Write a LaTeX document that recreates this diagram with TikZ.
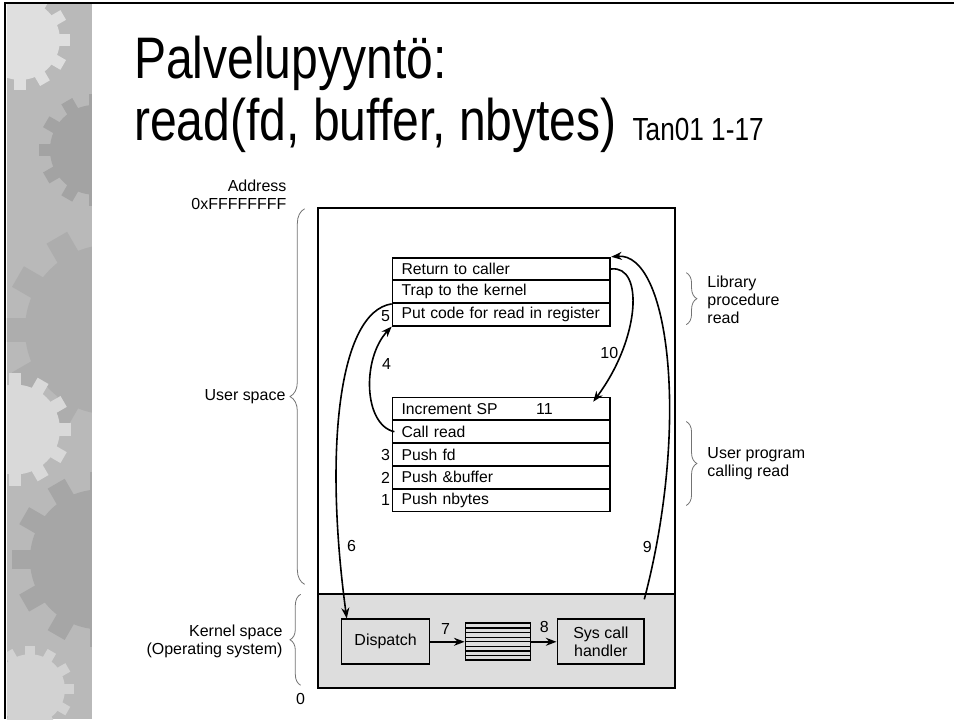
\documentclass[tikz,border=0pt]{standalone}
\usepackage{fontspec}
\setmainfont{Liberation Sans}
\newfontfamily\titlefont[FakeStretch=0.82]{Liberation Sans}
\usetikzlibrary{arrows.meta,decorations.pathreplacing}

\definecolor{kernelgray}{RGB}{221,221,221}

% gear silhouette for the slide strip: colour, x, y, radius
\newcommand{\gearblob}[4]{%
  \fill[#1] (#2,#3) circle (#4);
  \foreach \a in {0,30,...,330}
    \fill[#1, rotate around={\a:(#2,#3)}]
      ({#2-0.14*#4},{#3-1.25*#4}) rectangle ({#2+0.14*#4},{#3-0.9*#4});
}

\begin{document}
\begin{tikzpicture}[
    x=0.75pt, y=-0.75pt,
    font=\fontsize{12}{13.5}\selectfont,
    frame/.style={draw=black, line width=1.3pt},
    stackrow/.style={draw=black, line width=1.3pt, minimum height=17pt,
      font=\fontsize{11.8}{13.5}\selectfont,
      text width=150pt, inner xsep=6.75pt, inner ysep=0pt, align=left},
    kbox/.style={draw=black, line width=1.3pt, fill=kernelgray, inner sep=0pt, align=center},
    flow/.style={draw=black, line width=1.2pt, -{Stealth[length=8pt,width=6pt]}},
    stepnum/.style={inner sep=1pt},
    spacebrace/.style={draw=black!55, line width=0.6pt, decorate,
      decoration={brace, amplitude=#1}},
    spacebrace/.default=8pt,
    sidelabel/.style={align=right, anchor=east, inner sep=0pt},
    notelabel/.style={align=left, anchor=west, inner sep=0pt},
    titletext/.style={font=\titlefont\fontsize{44}{50}\selectfont, anchor=base west, inner sep=0pt},
  ]

  % Slide decoration: grey gear strip along the left edge.
  \begin{scope}
    \clip (7,4) rectangle (92,720);
    \fill[gray!55] (7,4) rectangle (92,720);
    \gearblob{gray!25}{20}{40}{40}
    \gearblob{gray!72}{95}{150}{45}
    \gearblob{gray!64}{110}{330}{85}
    \gearblob{gray!30}{15}{430}{45}
    \gearblob{gray!70}{100}{560}{70}
    \gearblob{gray!35}{30}{690}{35}
  \end{scope}
  \draw[line width=1.6pt] (5,720) -- (5,3) -- (955,3);

  % Title
  \node[titletext] (title1) at (134,79) {Palvelupyyntö:};
  \node[titletext] (title2) at (134,141) {read(fd, buffer, nbytes)};
  \node[anchor=base west, inner sep=0pt, font=\titlefont\fontsize{24}{28}\selectfont]
    (source) at (633,141) {Tan01 1-17};

  % Address space: user part above, kernel part shaded below.
  \fill[kernelgray] (318,595) rectangle (676,689);
  \draw[frame] (318,208) rectangle (676,689);
  \draw[frame] (318,595) -- (676,595);

  % Library procedure read
  \node[stackrow] (ret) at (502,269.3) {Return to caller};
  \node[stackrow] (trap) at (502,292) {Trap to the kernel};
  \node[stackrow] (putcode) at (502,314.7) {Put code for read in register};

  % User program calling read
  \node[stackrow] (inc) at (502,409.4) {Increment SP};
  \node[stackrow] (call) at (502,432.2) {Call read};
  \node[stackrow] (pushfd) at (502,455) {Push fd};
  \node[stackrow] (pushbuf) at (502,477.8) {Push \&buffer};
  \node[stackrow] (pushn) at (502,500.6) {Push nbytes};

  % Kernel: dispatch, table of handlers, handler
  \node[kbox, minimum width=66pt, minimum height=33.75pt] (dispatch) at (386,642.5) {Dispatch};
  \node[kbox, minimum width=48.75pt, minimum height=27.75pt] (table) at (498.5,642.5) {};
  \draw[line width=0.9pt]
    (466,628.6) -- (531,628.6) (466,633.3) -- (531,633.3)
    (466,637.9) -- (531,637.9) (466,642.5) -- (531,642.5)
    (466,647.1) -- (531,647.1) (466,651.8) -- (531,651.8)
    (466,656.4) -- (531,656.4);
  \node[kbox, minimum width=65.25pt, minimum height=33.75pt] (handler) at (601.5,642.5) {Sys call\\handler};

  % Steps
  \node[stepnum, anchor=east] (n1) at (392,501) {1};
  \node[stepnum, anchor=east] (n2) at (392,478) {2};
  \node[stepnum, anchor=east] (n3) at (392,455) {3};
  \node[stepnum] (n4) at (387,364) {4};
  \node[stepnum, anchor=east] (n5) at (392,316) {5};
  \node[stepnum] (n6) at (352,547) {6};
  \node[stepnum] (n7) at (446,630) {7};
  \node[stepnum] (n8) at (545,628) {8};
  \node[stepnum] (n9) at (648,548) {9};
  \node[stepnum] (n10) at (610,353) {10};
  \node[stepnum] (n11) at (545,409) {11};

  \coordinate (k9) at (645,600);

  \draw[flow] ([xshift=2pt]call.west) .. controls +(-31,-7) and +(-30,32) .. (putcode.south west);
  \draw[flow] (trap.south west) .. controls +(-53,8) and +(-23,-170) .. ([xshift=4.5pt]dispatch.north west);
  \draw[flow] (dispatch.east) -- (table.west);
  \draw[flow] (table.east) -- (handler.west);
  \draw[flow] (k9) .. controls +(46,-175) and +(58,-5) .. (ret.north east);
  \draw[flow] (ret.east) .. controls +(33,-4) and +(47,-63) .. ([xshift=-13.5pt,yshift=-3.75pt]inc.north east);

  % Braces and side labels
  \draw[spacebrace=11pt] (305,585) -- (305,209);
  \draw[spacebrace] (301,686) -- (301,595);
  \draw[spacebrace] (687,273) -- (687,325);
  \draw[spacebrace] (687,422) -- (687,506);

  \node[sidelabel] (addr) at (287,195) {Address\\0xFFFFFFFF};
  \node[sidelabel] (userlbl) at (286,397) {User space};
  \node[sidelabel] (kernlbl) at (283,642) {Kernel space\\(Operating system)};
  \node (zero) at (301,700) {0};
  \node[notelabel] (libnote) at (708,300) {Library\\procedure\\read};
  \node[notelabel] (usernote) at (708,464) {User program\\calling read};

  \useasboundingbox (0,0) rectangle (955,720);
\end{tikzpicture}
\end{document}
